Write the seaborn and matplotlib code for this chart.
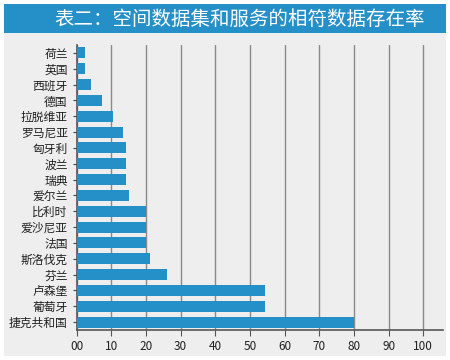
import matplotlib
matplotlib.use("Agg")
import matplotlib.pyplot as plt
from matplotlib.patches import Rectangle
import pandas as pd
import seaborn as sns

# Data
countries = ["荷兰", "英国", "西班牙", "德国", "拉脱维亚", "罗马尼亚", "匈牙利", "波兰", "瑞典",
             "爱尔兰", "比利时", "爱沙尼亚", "法国", "斯洛伐克", "芬兰", "卢森堡", "葡萄牙", "捷克共和国"]
rates = [2.4, 2.4, 4.2, 7.2, 10.4, 13.3, 14.2, 14.2, 14.2,
         15.2, 20.0, 20.0, 20.0, 21.1, 26.2, 54.3, 54.3, 80.0]
tick_values = [0, 10, 20, 30, 40, 50, 60, 70, 80, 90, 100]
tick_labels = ["00", "10", "20", "30", "40", "50", "60", "70", "80", "90", "100"]
title = "表二：空间数据集和服务的相符数据存在率"

df = pd.DataFrame({"country": countries, "rate": rates})

sns.set_style("ticks")
plt.rcParams["font.family"] = ["Noto Sans CJK SC", "DejaVu Sans"]

panel = "#edeeed"
blue = "#2590c8"

fig = plt.figure(figsize=(4.5, 3.6), dpi=100)
fig.patch.set_facecolor("white")
# gray panel and title band (behind the axes)
fig.patches.append(Rectangle((4 / 450, 4 / 360), 442 / 450, 352 / 360,
                             transform=fig.transFigure, facecolor=panel, edgecolor="none", zorder=-2))
fig.patches.append(Rectangle((4 / 450, 1 - 33 / 360), 442 / 450, 29 / 360,
                             transform=fig.transFigure, facecolor=blue, edgecolor="none", zorder=-1))
fig.text(240 / 450, 1 - 19 / 360, title, color="white", fontsize=14,
         ha="center", va="center")

ax = fig.add_axes([76.7 / 450, 30 / 360, 366.3 / 450, 285 / 360])
ax.set_facecolor(panel)
sns.barplot(data=df, x="rate", y="country", color=blue, saturation=1, width=0.7,
            orient="h", ax=ax, zorder=3, edgecolor="none", linewidth=0)

ax.set_xlim(0, 105.7)
ax.set_xticks(tick_values)
ax.set_xticklabels(tick_labels, fontsize=8.5, color="#222222")
ax.tick_params(axis="y", labelsize=8.5, labelcolor="#222222", length=3, color="#444444")
ax.tick_params(axis="x", length=4, color="#555555", pad=3)
ax.xaxis.grid(True, color="#8a8a8a", linewidth=1)
ax.set_axisbelow(True)
ax.set_xlabel("")
ax.set_ylabel("")
for s in ["top", "right"]:
    ax.spines[s].set_visible(False)
for s in ["left", "bottom"]:
    ax.spines[s].set_color("#555555")
    ax.spines[s].set_linewidth(1.2)

fig.savefig("out.png", dpi=100, facecolor=fig.get_facecolor())
